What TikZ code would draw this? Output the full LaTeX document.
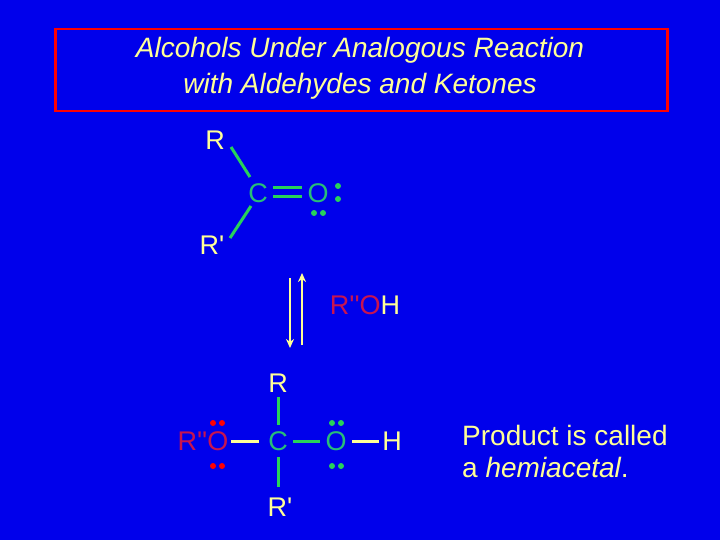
\documentclass[tikz,border=0pt]{standalone}
\usepackage{fontspec}
\usetikzlibrary{arrows.meta}
\setmainfont{Liberation Sans}
\definecolor{bg}{RGB}{0,0,235}
\definecolor{cream}{RGB}{255,255,150}
\definecolor{grn}{RGB}{40,210,90}
\definecolor{tgrn}{RGB}{40,190,120}
\definecolor{rd}{RGB}{200,20,80}
\newcommand{\pr}{\textquotesingle}
\begin{document}
\begin{tikzpicture}[x=1pt,y=-1pt,
  lbl/.style={inner sep=0pt,font=\fontsize{27}{30}\selectfont},
  bond/.style={line width=3pt,grn},
  ybond/.style={line width=3pt,cream},
  dot/.style={circle,fill=#1,inner sep=0pt,minimum size=6pt}]
\fill[bg] (0,0) rectangle (720,540);
\useasboundingbox (0,0) rectangle (720,540);
\node[draw=red,line width=2.5pt,minimum width=612pt,minimum height=82pt,anchor=north west] (box) at (54,28) {};
\node[lbl,cream,font=\fontsize{28}{30}\selectfont\itshape] (t1) at (360,50) {Alcohols Under Analogous Reaction};
\node[lbl,cream,font=\fontsize{28}{30}\selectfont\itshape] (t2) at (360,86) {with Aldehydes and Ketones};
% top molecule
\node[lbl,cream] (r1) at (215,140) {R};
\node[lbl,tgrn] (c1) at (258,193) {C};
\node[lbl,tgrn] (o1) at (318,193) {O};
\node[lbl,cream] (r2) at (212,245) {R\pr};
\draw[bond] (231,147) -- (250,177);
\draw[bond] (251,206) -- (230,238);
\draw[bond] (273,188) -- (302,188);
\draw[bond] (273,197) -- (302,197);
\node[dot=grn] at (338,186) {};\node[dot=grn] at (338,199) {};
\node[dot=grn] at (314,213) {};\node[dot=grn] at (323,213) {};
% arrows
\draw[cream,line width=2.5pt,-{Stealth[length=9pt,width=8pt]}] (290,278) -- (290,348);
\draw[cream,line width=2.5pt,-{Stealth[length=9pt,width=8pt]}] (302,345) -- (302,273);
\node[lbl] (roh) at (365,305) {\textcolor{rd}{R\pr\pr O}\textcolor{cream}{H}};
% bottom molecule
\node[lbl,cream] (r3) at (278,383) {R};
\node[lbl,tgrn] (c2) at (278,441) {C};
\node[lbl,cream] (r4) at (280,507) {R\pr};
\node[lbl,rd] (ro) at (203,441) {R\pr\pr O};
\node[lbl,tgrn] (o2) at (336,441) {O};
\node[lbl,cream] (h) at (392,441) {H};
\draw[bond] (278,397) -- (278,425);
\draw[bond] (278,457) -- (278,487);
\draw[ybond] (231,441) -- (259,441);
\draw[bond] (293,441) -- (320,441);
\draw[ybond] (352,441) -- (379,441);
\node[dot=red] at (213,423) {};\node[dot=red] at (222,423) {};
\node[dot=red] at (213,466) {};\node[dot=red] at (222,466) {};
\node[dot=grn] at (332,423) {};\node[dot=grn] at (341,423) {};
\node[dot=grn] at (332,466) {};\node[dot=grn] at (341,466) {};
\node[lbl,cream,anchor=west,font=\fontsize{28}{30}\selectfont] (p1) at (462,435) {Product is called};
\node[lbl,cream,anchor=west,font=\fontsize{28}{30}\selectfont] (p2) at (462,467) {a \textit{hemiacetal}.};
\end{tikzpicture}
\end{document}
